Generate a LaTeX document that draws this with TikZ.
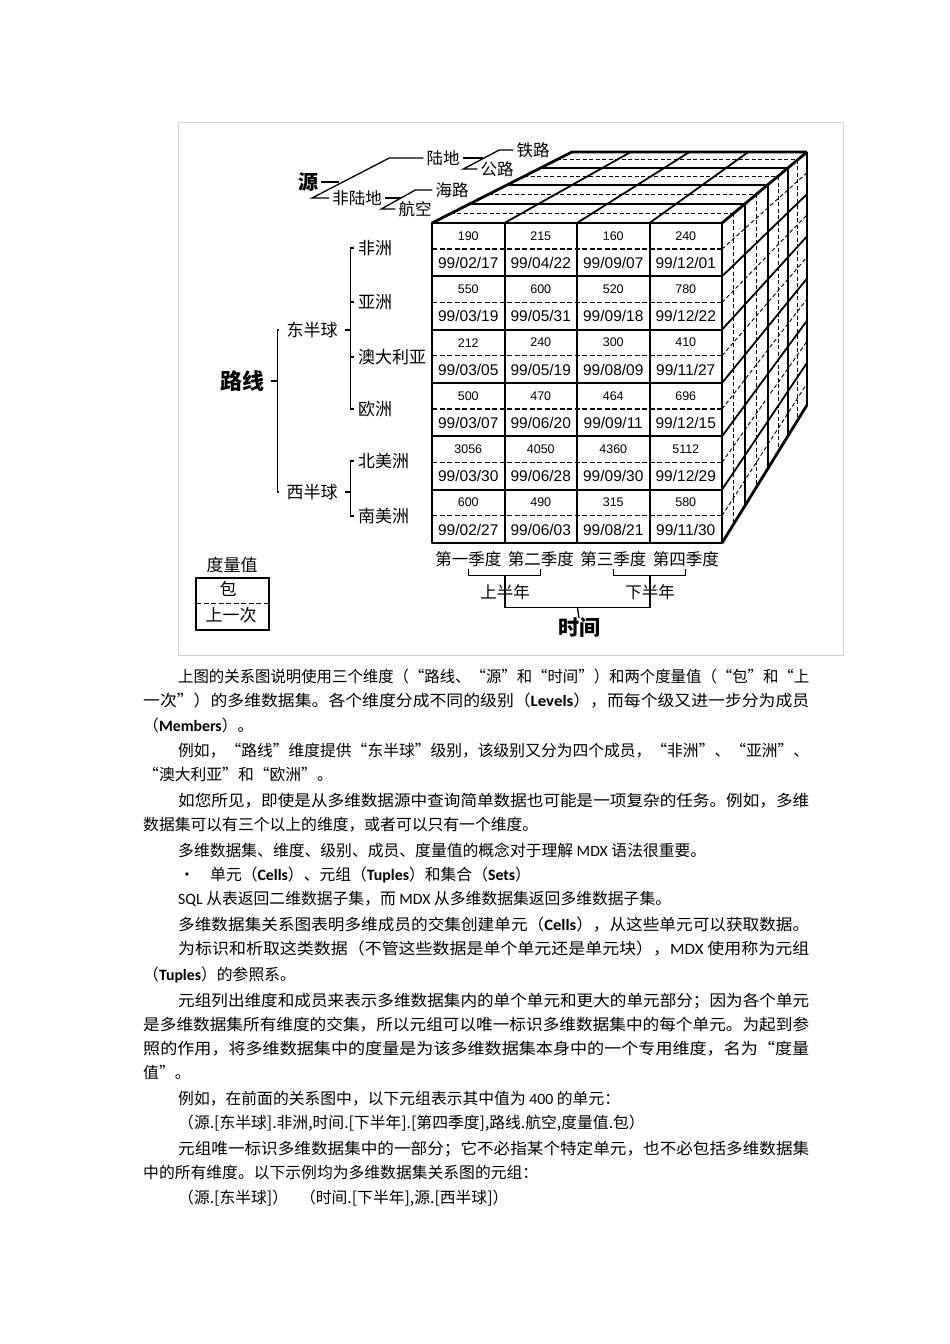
\documentclass[tikz,border=0pt]{standalone}
\usepackage{fontspec}
\usepackage{graphicx}
\setmainfont{Noto Sans CJK SC}
\newfontfamily\latfont{Carlito}
\newfontfamily\cellfont{Liberation Sans}
\usetikzlibrary{calc}

\newcommand{\lat}[1]{{\latfont #1}}
\newcommand{\latb}[1]{{\latfont\bfseries #1}}
\newcommand{\fitline}[2]{\resizebox{#1pt}{\height}{#2}}

\tikzset{
  lbl/.style={inner sep=0pt, font=\fontsize{16.5}{18}\selectfont},
  dimlbl/.style={inner sep=0pt, font=\fontsize{21}{24}\selectfont\bfseries},
  cellnum/.style={inner sep=0pt, font=\cellfont\fontsize{12.5}{14}\selectfont},
  celldate/.style={inner sep=0pt, font=\cellfont\fontsize{15.5}{17}\selectfont},
  cellline/.style={line width=2pt},
  celldash/.style={line width=1.5pt, dash pattern=on 5pt off 2.5pt},
  faceline/.style={line width=1.8pt},
  facedash/.style={line width=.9pt, dash pattern=on 4pt off 2.5pt},
  edgeline/.style={line width=2.8pt, line join=round},
  treeline/.style={line width=1.3pt},
  bodyline/.style={anchor=base west, inner sep=0pt, font=\fontsize{15.8}{18}\selectfont},
}

\begin{document}
\begin{tikzpicture}[x=1pt, y=-1pt]
  \useasboundingbox (0,0) rectangle (950,1344);
  \fill[white] (0,0) rectangle (950,1344);
  \draw[black!18, line width=1pt] (178,122) rectangle (843,655);

  % top face of the cube
  \foreach \t in {.135,.405,.66,.89}
    \draw[facedash] ({432+140*\t},{223-71*\t}) -- ({722+85*\t},{223-71*\t});
  \foreach \t in {.27,.54,.78,1}
    \draw[faceline] ({432+140*\t},{223-71*\t}) -- ({722+85*\t},{223-71*\t});
  \foreach \u in {.25,.5,.75}
    \draw[faceline] ({432+290*\u},223) -- ({572+235*\u},152);

  % right face of the cube
  \foreach \t in {.135,.405,.66,.89}
    \draw[facedash] ({722+85*\t},{223-71*\t}) -- ({722+85*\t},{543-138*\t});
  \foreach \t in {.27,.54,.78,1}
    \draw[faceline] ({722+85*\t},{223-71*\t}) -- ({722+85*\t},{543-138*\t});
  \foreach \k in {1,...,5}
    \draw[faceline] (722,{223+320*\k/6}) -- (807,{152+253*\k/6});
  \foreach \k in {0,...,5}
    \draw[facedash] (722,{223+320*(\k+.49)/6}) -- (807,{152+253*(\k+.49)/6});

  % front face
  \foreach \k in {0,...,5}
    \draw[celldash] (432,{249+320*\k/6}) -- (722,{249+320*\k/6});
  \foreach \k in {1,...,5}
    \draw[cellline] (432,{223+320*\k/6}) -- (722,{223+320*\k/6});
  \foreach \c in {1,2,3}
    \draw[cellline] ({432+72.5*\c},223) -- ({432+72.5*\c},543);
  \draw[edgeline] (432,223) rectangle (722,543);
  \draw[edgeline] (432,223) -- (572,152) -- (807,152);
  \draw[edgeline] (722,223) -- (807,152);
  \draw[edgeline] (722,543) -- (807,405);

  \foreach \val/\mo/\dy [count=\n from 0] in {190/02/17,215/04/22,160/09/07,240/12/01,
      550/03/19,600/05/31,520/09/18,780/12/22, 212/03/05,240/05/19,300/08/09,410/11/27,
      500/03/07,470/06/20,464/09/11,696/12/15, 3056/03/30,4050/06/28,4360/09/30,5112/12/29,
      600/02/27,490/06/03,315/08/21,580/11/30}{
    \pgfmathsetmacro{\cx}{432+72.5*(mod(\n,4)+.5)}
    \pgfmathsetmacro{\cy}{223+320/6*floor(\n/4)}
    \node[cellnum] (v\n) at (\cx,\cy+13) {\val};
    \node[celldate] (d\n) at (\cx,\cy+40) {99/\mo/\dy};
  }

  % source dimension
  \node[lbl] (ludi) at (443,158) {陆地};
  \node[lbl] (feiludi) at (357,198) {非陆地};
  \node[lbl] (tielu) at (533,150) {铁路};
  \node[lbl] (gonglu) at (497,169) {公路};
  \node[lbl] (hailu) at (452,190) {海路};
  \node[lbl] (hangkong) at (415,209) {航空};
  \node[dimlbl, font=\fontsize{20}{22}\selectfont\bfseries] (yuan) at (308,182) {源};

  \draw[treeline] ($(ludi.west)+(-3,0)$) -- ($(ludi.west)+(-37,0)$) coordinate (yhi)
    -- ($(feiludi.west)+(-20,0)$) coordinate (ylo) -- ($(feiludi.west)+(-3,0)$);
  \path (ylo) -- (yhi) coordinate[pos=.35] (ymid);
  \draw[treeline] ($(yuan.east)+(3,0)$) -- (yuan.east -| ymid);

  \draw[treeline] ($(tielu.west)+(-3,0)$) -- ($(tielu.west)+(-17,0)$) coordinate (lhi)
    -- ($(gonglu.west)+(-17,0)$) coordinate (llo) -- ($(gonglu.west)+(-3,0)$);
  \path (llo) -- (lhi) coordinate[pos=.55] (lmid);
  \draw[treeline] ($(ludi.east)+(3,0)$) -- (ludi.east -| lmid);

  \draw[treeline] ($(hailu.west)+(-3,0)$) -- ($(hailu.west)+(-20,0)$) coordinate (hhi)
    -- ($(hangkong.west)+(-17,0)$) coordinate (hlo) -- ($(hangkong.west)+(-3,0)$);
  \path (hlo) -- (hhi) coordinate[pos=.58] (hmid);
  \draw[treeline] ($(feiludi.east)+(3,0)$) -- (feiludi.east -| hmid);

  % route dimension
  \node[dimlbl, font=\fontsize{22}{24}\selectfont\bfseries] (luxian) at (242,381) {路线};
  \node[lbl, font=\fontsize{17}{19}\selectfont] (dong) at (312,330) {东半球};
  \node[lbl, font=\fontsize{17}{19}\selectfont] (xi) at (312,492) {西半球};
  \node[lbl, font=\fontsize{17}{19}\selectfont, anchor=west] (feizhou) at (358,248) {非洲};
  \node[lbl, font=\fontsize{17}{19}\selectfont, anchor=west] (yazhou) at (358,302) {亚洲};
  \node[lbl, font=\fontsize{17}{19}\selectfont, anchor=west] (aodaliya) at (358,357) {澳大利亚};
  \node[lbl, font=\fontsize{17}{19}\selectfont, anchor=west] (ouzhou) at (358,409) {欧洲};
  \node[lbl, font=\fontsize{17}{19}\selectfont, anchor=west] (beimei) at (358,461) {北美洲};
  \node[lbl, font=\fontsize{17}{19}\selectfont, anchor=west] (nanmei) at (358,516) {南美洲};

  \draw[treeline] ($(luxian.east)+(7,0)$) -- ($(luxian.east)+(13,0)$) coordinate (lxb);
  \draw[treeline] ($(dong.west)+(-7,0)$) -| (lxb) |- ($(xi.west)+(-7,0)$);
  \draw[treeline] ($(dong.east)+(7,0)$) -- ($(dong.east)+(13,0)$) coordinate (db);
  \draw[treeline] ($(feizhou.west)+(-4,0)$) -| (db) |- ($(ouzhou.west)+(-4,0)$);
  \draw[treeline] ($(yazhou.west)+(-4,0)$) -- (yazhou.west -| db);
  \draw[treeline] ($(aodaliya.west)+(-4,0)$) -- (aodaliya.west -| db);
  \draw[treeline] ($(xi.east)+(7,0)$) -- ($(xi.east)+(13,0)$) coordinate (xb);
  \draw[treeline] ($(beimei.west)+(-4,0)$) -| (xb) |- ($(nanmei.west)+(-4,0)$);

  % time dimension
  \foreach \q/\name [count=\c from 0] in {第一季度/q1,第二季度/q2,第三季度/q3,第四季度/q4}
    \node[lbl] (\name) at ({432+72.5*(\c+.5)},559) {\q};
  \node[lbl] (shang) at (505,592) {上半年};
  \node[lbl] (xia) at (650,592) {下半年};
  \node[dimlbl] (shijian) at (579,628) {时间};

  \draw[treeline] ($(q1.south)+(0,2)$) |- ($(shang.north)+(0,-9)$) -| ($(q2.south)+(0,2)$);
  \draw[treeline] ($(q3.south)+(0,2)$) |- ($(xia.north)+(0,-9)$) -| ($(q4.south)+(0,2)$);
  \draw[treeline] ($(shang.north)+(0,-9)$) -- ($(shang.south)+(0,8)$)
    -- ($(xia.south)+(0,8)$) -- ($(xia.north)+(0,-9)$);
  \draw[treeline] ($(shang.south)!.5!(xia.south)+(0,8)$) -- (shijian.north);

  % measures
  \node[lbl, font=\fontsize{17}{19}\selectfont] (dlz) at (232,565) {度量值};
  \node[lbl, font=\fontsize{17}{19}\selectfont] (bao) at (228,589) {包};
  \node[lbl, font=\fontsize{17}{19}\selectfont] (syc) at (231,615) {上一次};
  \draw[line width=2.8pt] (196,578) rectangle (269,630);
  \draw[celldash, line width=1pt] (196,603) -- (269,603);

  % text below the figure
  \node[bodyline] (t1) at (178,682) {\fitline{631}{上图的关系图说明使用三个维度（“路线、“源”和“时间”）和两个度量值（“包”和“上}};
  \node[bodyline] (t2) at (143,706) {\fitline{666}{一次”）的多维数据集。各个维度分成不同的级别（\latb{Levels}），而每个级又进一步分为成员}};
  \node[bodyline] (t3) at (143,731) {（\latb{Members}）。};
  \node[bodyline] (t4) at (178,756) {\fitline{631}{例如，“路线”维度提供“东半球”级别，该级别又分为四个成员，“非洲”、“亚洲”、}};
  \node[bodyline] (t5) at (143,780) {“澳大利亚”和“欧洲”。};
  \node[bodyline] (t6) at (178,806) {\fitline{631}{如您所见，即使是从多维数据源中查询简单数据也可能是一项复杂的任务。例如，多维}};
  \node[bodyline] (t7) at (143,830) {数据集可以有三个以上的维度，或者可以只有一个维度。};
  \node[bodyline] (t8) at (178,856) {多维数据集、维度、级别、成员、度量值的概念对于理解 \lat{MDX} 语法很重要。};
  \node[bodyline] (t9a) at (179,880) {•};
  \node[bodyline] (t9) at (210,880) {单元（\latb{Cells}）、元组（\latb{Tuples}）和集合（\latb{Sets}）};
  \node[bodyline] (t10) at (178,904) {\lat{SQL} 从表返回二维数据子集，而 \lat{MDX} 从多维数据集返回多维数据子集。};
  \node[bodyline] (t11) at (178,930) {\fitline{631}{多维数据集关系图表明多维成员的交集创建单元（\latb{Cells}），从这些单元可以获取数据。}};
  \node[bodyline] (t12) at (178,954) {\fitline{631}{为标识和析取这类数据（不管这些数据是单个单元还是单元块），\lat{MDX} 使用称为元组}};
  \node[bodyline] (t13) at (143,980) {（\latb{Tuples}）的参照系。};
  \node[bodyline] (t14) at (178,1006) {\fitline{631}{元组列出维度和成员来表示多维数据集内的单个单元和更大的单元部分；因为各个单元}};
  \node[bodyline] (t15) at (143,1030) {\fitline{666}{是多维数据集所有维度的交集，所以元组可以唯一标识多维数据集中的每个单元。为起到参}};
  \node[bodyline] (t16) at (143,1054) {\fitline{666}{照的作用，将多维数据集中的度量是为该多维数据集本身中的一个专用维度，名为“度量}};
  \node[bodyline] (t17) at (143,1078) {值”。};
  \node[bodyline] (t18) at (178,1104) {例如，在前面的关系图中，以下元组表示其中值为 \lat{400} 的单元：};
  \node[bodyline] (t19) at (178,1128) {（源.[东半球].非洲,时间.[下半年].[第四季度],路线.航空,度量值.包）};
  \node[bodyline] (t20) at (178,1154) {\fitline{631}{元组唯一标识多维数据集中的一部分；它不必指某个特定单元，也不必包括多维数据集}};
  \node[bodyline] (t21) at (143,1178) {中的所有维度。以下示例均为多维数据集关系图的元组：};
  \node[bodyline] (t22) at (178,1203) {（源.[东半球]）\hspace{12pt}（时间.[下半年],源.[西半球]）};
\end{tikzpicture}
\end{document}
